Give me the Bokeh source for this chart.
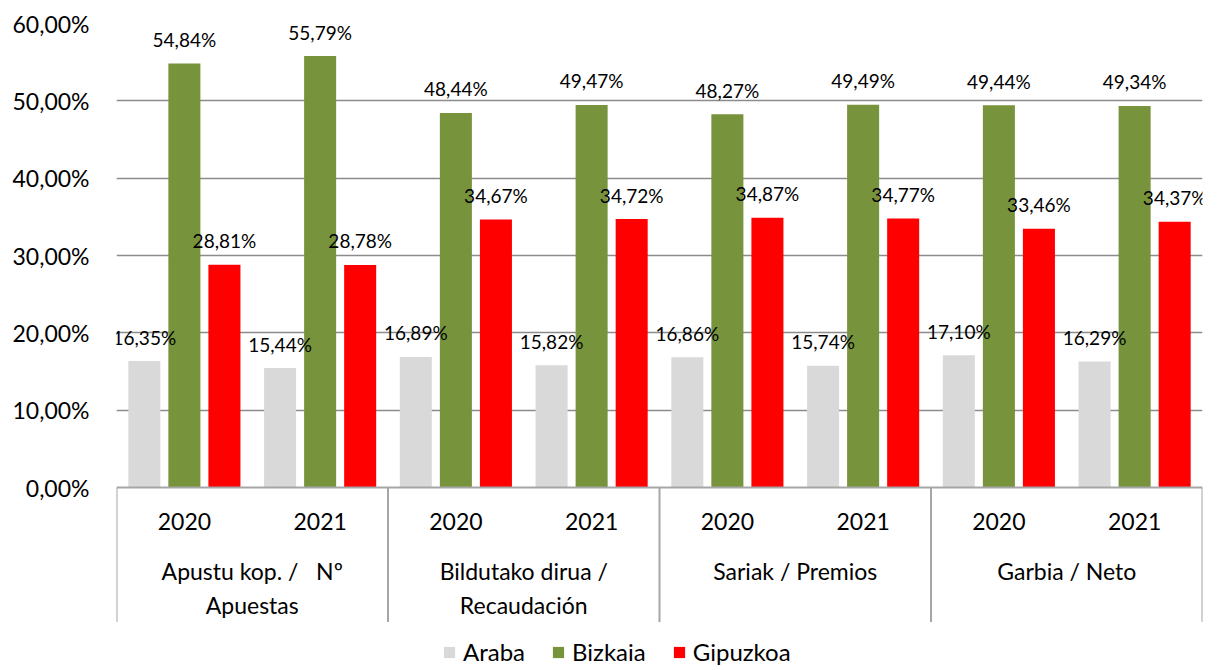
from bokeh.plotting import figure
from bokeh.models import (FactorRange, Range1d, FixedTicker, ColumnDataSource,
                          Legend, LegendItem, Span, CustomJSTickFormatter)
from bokeh.transform import dodge
from bokeh.core.properties import value
from bokeh.embed import file_html
from bokeh.resources import INLINE

# ---------------- data ----------------
groups = ["Apustu kop. / \u00a0 Nº\nApuestas", "Bildutako dirua /\nRecaudación",
          "Sariak / Premios", "Garbia / Neto"]
years = ["2020", "2021"]
series_names = ["Araba", "Bizkaia", "Gipuzkoa"]
araba = [16.35, 15.44, 16.89, 15.82, 16.86, 15.74, 17.10, 16.29]
bizkaia = [54.84, 55.79, 48.44, 49.47, 48.27, 49.49, 49.44, 49.34]
gipuzkoa = [28.81, 28.78, 34.67, 34.72, 34.87, 34.77, 33.46, 34.37]
y_ticks = [0, 10, 20, 30, 40, 50, 60]

# ---------------- styling ----------------
FONT = "Lato"
BIG = "23px"
colors = ["#D9D9D9", "#77933C", "#FF0000"]
offsets = [-0.295, 0.0, 0.295]
BAR_W = 0.236
GRID_COLOR = "#8C8C8C"
SEP_COLOR = "#A6A6A6"


def fmt(v):
    return f"{v:.2f}".replace(".", ",") + "%"


factors = [(g, y) for g in groups for y in years]
source = ColumnDataSource(dict(
    x=factors,
    araba=araba, bizkaia=bizkaia, gipuzkoa=gipuzkoa,
    araba_lbl=[fmt(v) for v in araba],
    bizkaia_lbl=[fmt(v) for v in bizkaia],
    gipuzkoa_lbl=[fmt(v) for v in gipuzkoa],
    year=[f[1] for f in factors],
))

W, H = 1213, 670
x_range = FactorRange(*factors, group_padding=0, subgroup_padding=0, range_padding=0)
p = figure(width=W, height=H, x_range=x_range, y_range=Range1d(-23.66, 60),
           output_backend="svg", toolbar_location=None, x_axis_location=None,
           min_border_left=116, min_border_right=11, min_border_top=23, min_border_bottom=0)
p.outline_line_color = None
p.background_fill_color = "white"
p.border_fill_color = "white"

# y axis
p.yaxis.ticker = FixedTicker(ticks=y_ticks)
p.yaxis.formatter = CustomJSTickFormatter(code="return tick.toFixed(2).replace('.', ',') + '%';")
p.yaxis.axis_line_color = None
p.yaxis.major_tick_line_color = None
p.yaxis.minor_tick_line_color = None
p.yaxis.major_tick_out = 0
p.yaxis.major_tick_in = 0
p.yaxis.major_label_standoff = 27
p.yaxis.major_label_text_font = FONT
p.yaxis.major_label_text_font_size = BIG
p.yaxis.major_label_text_color = "#000000"

p.ygrid.ticker = FixedTicker(ticks=y_ticks[1:])
p.ygrid.grid_line_color = GRID_COLOR
p.ygrid.grid_line_width = 1.5
p.xgrid.visible = False

# bars
keys = ["araba", "bizkaia", "gipuzkoa"]
renderers = []
for key, col, off in zip(keys, colors, offsets):
    r = p.vbar(x=dodge("x", off, range=p.x_range), top=key, width=BAR_W, source=source,
               fill_color=col, line_color=None)
    renderers.append(r)

# zero axis line
p.add_layout(Span(location=0, dimension="width", line_color=SEP_COLOR, line_width=2))

# data labels
for key, off in zip(keys, offsets):
    p.text(x=dodge("x", off, range=p.x_range), y=key, text=key + "_lbl", source=source,
           text_align="center", text_baseline="middle", y_offset=-24,
           text_font=value(FONT), text_font_size="19px", text_color="#000000")

# category separators
sep_left = ColumnDataSource(dict(x=[(g, years[0]) for g in groups]))
sep_right = ColumnDataSource(dict(x=[(groups[-1], years[-1])]))
p.segment(x0=dodge("x", -0.5, range=p.x_range), x1=dodge("x", -0.5, range=p.x_range),
          y0=0, y1=-17.4, source=sep_left, line_color=SEP_COLOR, line_width=2)
p.segment(x0=dodge("x", 0.5, range=p.x_range), x1=dodge("x", 0.5, range=p.x_range),
          y0=0, y1=-17.4, source=sep_right, line_color=SEP_COLOR, line_width=2)

# year labels
p.text(x="x", y=-4.4, text="year", source=source, text_align="center",
       text_baseline="middle", text_font=value(FONT), text_font_size=BIG,
       text_color="#000000")

# group labels
gsrc = ColumnDataSource(dict(x=groups, label=groups))
p.text(x="x", y=-9.0, text="label", source=gsrc, text_align="center",
       text_baseline="top", text_line_height=1.2, text_font=value(FONT),
       text_font_size=BIG, text_color="#000000")

# legend
legend = Legend(items=[LegendItem(label=n, renderers=[r]) for n, r in zip(series_names, renderers)],
                orientation="horizontal", location=(326, 4))
legend.glyph_width = 14
legend.glyph_height = 14
legend.label_standoff = 7
legend.spacing = 26
legend.padding = 0
legend.margin = 0
legend.border_line_color = None
legend.background_fill_alpha = 0
legend.label_text_font = FONT
legend.label_text_font_size = "24px"
legend.label_text_color = "#000000"
p.add_layout(legend)

open("out.html", "w").write(file_html(p, INLINE))
